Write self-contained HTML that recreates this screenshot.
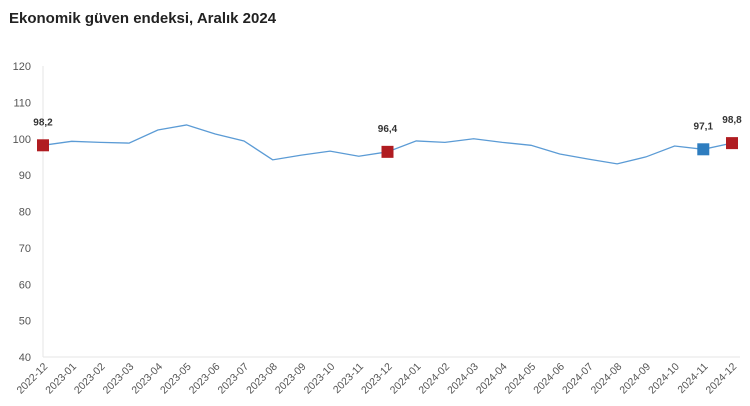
<!DOCTYPE html>
<html><head><meta charset="utf-8"><style>
body{margin:0;background:#fff;font-family:"Liberation Sans",Arial,sans-serif}
svg{display:block}
</style></head><body>
<svg id="c" width="750" height="406">
<text x="9" y="23" font-size="15" font-weight="bold" fill="#222">Ekonomik güven endeksi, Aralık 2024</text>
</svg>
<script>
const categories=["2022-12","2023-01","2023-02","2023-03","2023-04","2023-05","2023-06","2023-07","2023-08","2023-09","2023-10","2023-11","2023-12","2024-01","2024-02","2024-03","2024-04","2024-05","2024-06","2024-07","2024-08","2024-09","2024-10","2024-11","2024-12"];
const values=[98.2,99.3,99.0,98.8,102.4,103.8,101.3,99.4,94.2,95.5,96.6,95.2,96.4,99.4,99.0,100.0,99.0,98.2,95.8,94.4,93.1,95.0,98.0,97.1,98.8];
const yTicks=[40,50,60,70,80,90,100,110,120];
const highlights=[[0,"#b01c21","98,2"],[12,"#b01c21","96,4"],[23,"#2e7dbf","97,1"],[24,"#b01c21","98,8"]];
const svg=document.getElementById('c');const NS="http://www.w3.org/2000/svg";
const x0=43,x1=732,yTop=66,yBot=357,vMin=40,vMax=120;
const X=i=>x0+(x1-x0)*i/(categories.length-1);
const Y=v=>yBot-(v-vMin)/(vMax-vMin)*(yBot-yTop);
function mk(t,a){const e=document.createElementNS(NS,t);for(const k in a)e.setAttribute(k,a[k]);svg.appendChild(e);return e;}
const ax=mk('line',{x1:x0,x2:x0,y1:yTop,y2:yBot,stroke:'#e6e6e6'});


const bx=mk('line',{x1:x0,x2:x1+8,y1:yBot,y2:yBot,stroke:'#e6e6e6'});


yTicks.forEach(v=>{const t=mk('text',{x:31,y:Y(v)+4,'font-size':11,fill:'#555','text-anchor':'end'});t.textContent=v;

});
categories.forEach((c,i)=>{const x=X(i),y=yBot+8;const t=mk('text',{x:x+3,y:y+3,'font-size':10.5,fill:'#555','text-anchor':'end',transform:`rotate(-45 ${x+3} ${y})`});t.textContent=c;

});
const ln=mk('polyline',{points:values.map((v,i)=>X(i)+','+Y(v)).join(' '),fill:'none',stroke:'#5b9bd5','stroke-width':1.3});


highlights.forEach(h=>{const i=h[0],x=X(i),y=Y(values[i]);
const r=mk('rect',{x:x-6,y:y-6,width:12,height:12,fill:h[1]});


const t=mk('text',{x:x,y:y-20,'font-size':10,'font-weight':'bold',fill:'#333','text-anchor':'middle'});t.textContent=h[2];

});
</script>
</body></html>
